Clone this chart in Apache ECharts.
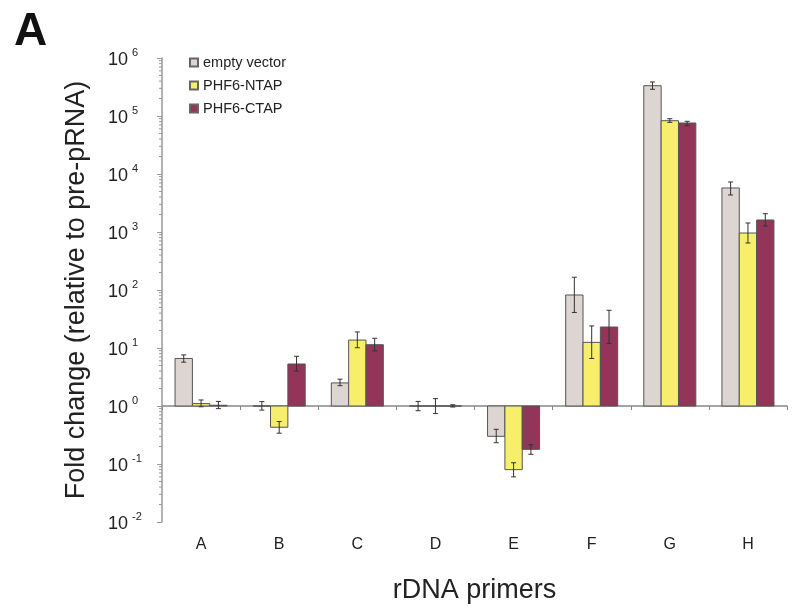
<!DOCTYPE html>
<html>
<head>
<meta charset="utf-8">
<script src="https://cdn.jsdelivr.net/npm/echarts@6/dist/echarts.min.js"></script>
<style>
    html, body { margin: 0; padding: 0; background: #fff; }
    #main { width: 799px; height: 613px; }
</style>
</head>
<body>
<div id="main"></div>
<script>
// rDNA primer fold change, log scale, bars grow from 1

var categories = ['A', 'B', 'C', 'D', 'E', 'F', 'G', 'H'];
var seriesNames = ['empty vector', 'PHF6-NTAP', 'PHF6-CTAP'];

// values and error bar ends (low / high)
var emptyVal  = [6.6, 1.0, 2.5, 1.0, 0.30, 82, 333000, 5740];
var emptyLow  = [5.7, 0.85, 2.24, 0.83, 0.233, 41, 289000, 4345];
var emptyHigh = [7.6, 1.19, 2.9, 1.2, 0.396, 166, 386000, 7280];

var ntapVal  = [1.1, 0.43, 13.7, 1.0, 0.080, 12.5, 83000, 961];
var ntapLow  = [0.97, 0.34, 10.1, 0.74, 0.06, 6.6, 77700, 646];
var ntapHigh = [1.27, 0.54, 18.9, 1.34, 0.105, 24, 89800, 1430];

var ctapVal  = [1.03, 5.3, 11.4, 1.0, 0.179, 23, 75700, 1610];
var ctapLow  = [0.9, 4.0, 8.9, 0.96, 0.147, 12, 68000, 1268];
var ctapHigh = [1.2, 7.2, 14.7, 1.05, 0.215, 44.7, 81000, 2070];

var colors = ['#ddd5d2', '#f7ee6b', '#933558'];

var fontName = 'Liberation Sans';

// minor ticks of the log axis (2..9 per decade)
var minorTicks = [];
for (var e = -2; e < 6; e++) {
    for (var k = 2; k <= 9; k++) {
        minorTicks.push([0, k * Math.pow(10, e)]);
    }
}

function buildData(vals, lows, highs) {
    var out = [];
    for (var i = 0; i < vals.length; i++) {
        out.push([i, vals[i], lows[i], highs[i]]);
    }
    return out;
}

function barRenderer(idx) {
    return function (params, api) {
        var cat = api.value(0);
        var base = api.coord([cat, 1]);
        var top = api.coord([cat, api.value(1)]);
        var lo = api.coord([cat, api.value(2)]);
        var hi = api.coord([cat, api.value(3)]);
        var bandW = api.coord([1, 1])[0] - api.coord([0, 1])[0];
        var barW = bandW * 0.222;
        var x0 = base[0] + (idx - 1.5) * barW;
        var cx = x0 + barW / 2;
        var y0 = Math.min(base[1], top[1]);
        var h = Math.abs(base[1] - top[1]);
        var cap = 2.5;
        var errStyle = { stroke: '#333', lineWidth: 1 };
        return {
            type: 'group',
            children: [
                {
                    type: 'rect',
                    shape: { x: x0, y: y0, width: barW, height: h },
                    style: { fill: colors[idx], stroke: '#555', lineWidth: 1 }
                },
                { type: 'line', shape: { x1: cx, y1: lo[1], x2: cx, y2: hi[1] }, style: errStyle },
                { type: 'line', shape: { x1: cx - cap, y1: lo[1], x2: cx + cap, y2: lo[1] }, style: errStyle },
                { type: 'line', shape: { x1: cx - cap, y1: hi[1], x2: cx + cap, y2: hi[1] }, style: errStyle }
            ]
        };
    };
}

function minorTickRenderer(params, api) {
    var p = api.coord([0, api.value(1)]);
    var bandW = api.coord([1, 1])[0] - api.coord([0, 1])[0];
    var x = p[0] - bandW / 2;
    return {
        type: 'line',
        shape: { x1: x - 3, y1: p[1], x2: x, y2: p[1] },
        style: { stroke: '#999', lineWidth: 1 }
    };
}

var seriesData = [
    buildData(emptyVal, emptyLow, emptyHigh),
    buildData(ntapVal, ntapLow, ntapHigh),
    buildData(ctapVal, ctapLow, ctapHigh)
];

var series = [];
for (var s = 0; s < 3; s++) {
    series.push({
        name: seriesNames[s],
        type: 'custom',
        xAxisIndex: 0,
        yAxisIndex: 0,
        renderItem: barRenderer(s),
        encode: { x: 0, y: 1 },
        itemStyle: { color: colors[s], borderColor: '#666', borderWidth: 1 },
        clip: false,
        z: 3,
        data: seriesData[s]
    });
}
series.push({
    type: 'custom',
    silent: true,
    renderItem: minorTickRenderer,
    encode: { x: 0, y: 1 },
    clip: false,
    data: minorTicks
});

var option = {
    animation: false,
    backgroundColor: '#fff',
    textStyle: { fontFamily: fontName },
    title: {
        text: 'A',
        left: 9,
        top: 4,
        textStyle: { fontSize: 46, fontWeight: 'bold', color: '#111', fontFamily: fontName }
    },
    legend: {
        data: seriesNames,
        orient: 'vertical',
        left: 184,
        top: 50,
        icon: 'rect',
        itemWidth: 8,
        itemHeight: 8,
        itemGap: 8,
        textStyle: { fontSize: 14.5, color: '#222', fontFamily: fontName }
    },
    grid: {
        left: 162,
        right: 12,
        top: 58,
        bottom: 91
    },
    xAxis: [
        {
            type: 'category',
            data: categories,
            position: 'bottom',
            axisLine: { show: false },
            axisTick: { show: false },
            axisLabel: { fontSize: 16, color: '#222', margin: 15, fontFamily: fontName },
            name: 'rDNA primers',
            nameLocation: 'middle',
            nameGap: 55,
            nameTextStyle: { fontSize: 27, color: '#222', fontFamily: fontName }
        },
        {
            // baseline at fold change = 1
            type: 'category',
            data: categories,
            position: 'bottom',
            offset: -116,
            axisLine: { lineStyle: { color: '#888', width: 1.5 } },
            axisTick: { show: true, length: 4, lineStyle: { color: '#888' } },
            axisLabel: { show: false }
        }
    ],
    yAxis: {
        type: 'log',
        logBase: 10,
        min: 0.01,
        max: 1000000,
        interval: 1,
        axisLine: { show: true, lineStyle: { color: '#999', width: 1.5 } },
        axisTick: { show: true, length: 5, lineStyle: { color: '#999' } },
        splitLine: { show: false },
        axisLabel: {
            margin: 54,
            align: 'left',
            formatter: function (v) {
                return '{b|10}{s|' + Math.round(Math.log10(v)) + '}';
            },
            rich: {
                b: { fontSize: 18, color: '#222', lineHeight: 22, verticalAlign: 'bottom', fontFamily: fontName },
                s: { fontSize: 11, color: '#222', lineHeight: 22, verticalAlign: 'top', padding: [0, 0, 0, 4], fontFamily: fontName }
            }
        },
        name: 'Fold change (relative to pre-pRNA)',
        nameLocation: 'middle',
        nameGap: 72,
        nameTextStyle: { fontSize: 27, color: '#222', fontFamily: fontName }
    },
    series: series
};

var chart = echarts.init(document.getElementById('main'));
chart.setOption(option);
</script>
</body>
</html>
